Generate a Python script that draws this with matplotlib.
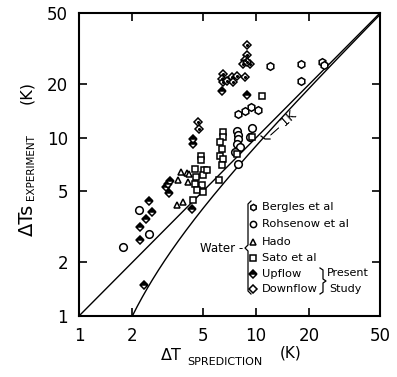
import numpy as np
import matplotlib
matplotlib.use("Agg")
import matplotlib.pyplot as plt
from matplotlib.lines import Line2D

# ---------------- data ----------------
bergles_x = [11.97, 17.8, 23.4, 24.0, 17.8, 7.93, 8.6, 9.35, 10.3]
bergles_y = [25.3, 25.9, 26.4, 25.6, 20.7, 13.5, 14.1, 14.8, 14.3]

rohsenow_x = [1.78, 2.19, 2.49, 9.51, 7.76, 7.93, 7.93, 7.76, 8.11, 7.59, 7.93, 9.23]
rohsenow_y = [2.44, 3.91, 2.90, 11.4, 10.96, 10.4, 9.85, 9.23, 8.84, 8.28, 7.14, 10.05]

hada_x = [3.75, 4.05, 4.19, 4.11, 3.62, 3.59, 3.88]
hada_y = [6.41, 6.30, 6.28, 5.63, 5.81, 4.17, 4.35]

sato_x = [4.87, 4.87, 4.51, 5.07, 4.57, 5.03, 4.51, 4.92, 4.62, 5.03, 4.38,
          6.15, 5.26, 7.76, 9.43, 10.8, 6.52, 6.52, 6.25, 6.39, 6.25, 6.52, 6.39]
sato_y = [7.94, 7.51, 6.69, 6.61, 6.01, 6.14, 5.52, 5.40, 5.06, 4.95, 4.45,
          5.76, 6.55, 8.11, 10.05, 17.2, 10.7, 10.05, 9.43, 8.65, 7.94, 7.61, 7.05]

upflow_x = [2.21, 2.22, 2.39, 2.57, 2.49, 2.33, 3.10, 3.23, 3.26, 3.16, 4.32,
            4.42, 4.38, 6.39, 8.91]
upflow_y = [2.66, 3.16, 3.50, 3.85, 4.41, 1.49, 5.28, 4.91, 5.71, 5.52, 4.00,
            9.23, 9.85, 18.3, 17.4]

downflow_x = [8.91, 8.91, 8.65, 8.46, 9.23, 8.91, 6.47, 6.39, 6.52, 6.82, 7.28,
              7.43, 7.76, 8.65, 4.71, 4.77]
downflow_y = [33.1, 29.1, 27.2, 25.9, 25.9, 26.7, 22.7, 21.3, 20.4, 20.8, 21.8,
              20.4, 22.2, 21.8, 12.2, 11.2]

ticks = [1, 2, 5, 10, 20, 50]
tick_labels = ["1", "2", "5", "10", "20", "50"]
axis_min, axis_max = 1, 50
offset_k = 1.0  # the "-1K" line: experiment = prediction - 1 K

legend_labels = ["Bergles et al", "Rohsenow et al", "Hado", "Sato et al",
                 "Upflow", "Downflow"]

# ---------------- figure ----------------
W, H = 397, 377
fig = plt.figure(figsize=(W / 100, H / 100), dpi=100)
ax = fig.add_axes([79 / W, 1 - 316 / H, (380 - 79) / W, (316 - 13) / H])
ax.set_xscale("log")
ax.set_yscale("log")
ax.set_xlim(axis_min, axis_max)
ax.set_ylim(axis_min, axis_max)

# reference lines
ax.plot([axis_min, axis_max], [axis_min, axis_max], color="black", lw=1.0)
xc = np.geomspace(axis_min + offset_k, axis_max, 200)
ax.plot(xc, xc - offset_k, color="black", lw=1.0)

ms = 5
kw = dict(linestyle="none", color="black", markeredgewidth=1.1)
ax.plot(bergles_x, bergles_y, marker="h", markersize=ms + 0.5,
        markerfacecolor="white", **kw)
ax.plot(rohsenow_x, rohsenow_y, marker="o", markersize=ms + 0.5,
        markerfacecolor="white", **kw)
ax.plot(hada_x, hada_y, marker="^", markersize=ms,
        markerfacecolor="white", **kw)
ax.plot(sato_x, sato_y, marker="s", markersize=ms,
        markerfacecolor="white", **kw)
ax.plot(upflow_x, upflow_y, marker="D", markersize=ms - 0.5,
        fillstyle="top", markerfacecolor="black", markerfacecoloralt="white", **kw)
ax.plot(downflow_x, downflow_y, marker="D", markersize=ms - 0.5,
        markerfacecolor="white", **kw)
ax.plot(downflow_x, downflow_y, marker=".", markersize=2.5, linestyle="none",
        color="black")

ax.set_xticks(ticks)
ax.set_xticklabels(tick_labels)
ax.set_yticks(ticks)
ax.set_yticklabels(tick_labels)
ax.minorticks_off()
ax.tick_params(which="both", direction="in", length=6, width=1.2, top=True,
               right=True, pad=8, labelsize=12)
for s in ax.spines.values():
    s.set_linewidth(1.5)


def fx(px):
    return px / W


def fy(py):
    return 1 - py / H


# -1K annotation
fig.add_artist(Line2D([fx(261), fx(265), fx(270)], [fy(136), fy(139), fy(139)],
                      color="black", lw=0.9))
fig.text(fx(283), fy(125), "\u2014 1K", rotation=42, ha="center", va="center",
         fontsize=9)

# axis labels
fig.text(fx(27), fy(220), "\u0394Ts", rotation=90, ha="center", va="center",
         fontsize=14)
fig.text(fx(31), fy(167), "EXPERIMENT", rotation=90, ha="center", va="center",
         fontsize=7.5)
fig.text(fx(27), fy(92), "(K)", rotation=90, ha="center", va="center",
         fontsize=11.5)

fig.text(fx(171), fy(355), "\u0394T", ha="center", va="center", fontsize=11.5)
fig.text(fx(225), fy(362), "SPREDICTION", ha="center", va="center", fontsize=8)
fig.text(fx(291), fy(353), "(K)", ha="center", va="center", fontsize=11)

# legend block
rows = [207, 224, 242, 258, 274, 289]
markers = [dict(marker="h", markerfacecolor="white"),
           dict(marker="o", markerfacecolor="white"),
           dict(marker="^", markerfacecolor="white"),
           dict(marker="s", markerfacecolor="white"),
           dict(marker="D", fillstyle="top", markerfacecolor="black",
                markerfacecoloralt="white"),
           dict(marker="D", markerfacecolor="white")]
for r, lab, m in zip(rows, legend_labels, markers):
    fig.add_artist(Line2D([fx(253)], [fy(r)], linestyle="none", color="black",
                          markersize=4.5, markeredgewidth=1.1, **m))
    fig.text(fx(262), fy(r), lab, ha="left", va="center", fontsize=8.2)

# left brace
fig.add_artist(Line2D([fx(251), fx(248), fx(248), fx(245), fx(248), fx(248), fx(251)],
                      [fy(201), fy(204), fy(245), fy(248), fy(251), fy(291), fy(294)],
                      color="black", lw=0.9))
fig.text(fx(243), fy(248), "Water -", ha="right", va="center", fontsize=8.5)

# right brace
fig.add_artist(Line2D([fx(320), fx(323), fx(323), fx(326), fx(323), fx(323), fx(320)],
                      [fy(268), fy(270), fy(279), fy(281), fy(283), fy(292), fy(294)],
                      color="black", lw=0.9))
fig.text(fx(327), fy(273), "Present", ha="left", va="center", fontsize=8)
fig.text(fx(329), fy(289), "Study", ha="left", va="center", fontsize=8)

fig.savefig("out.png", dpi=100)
